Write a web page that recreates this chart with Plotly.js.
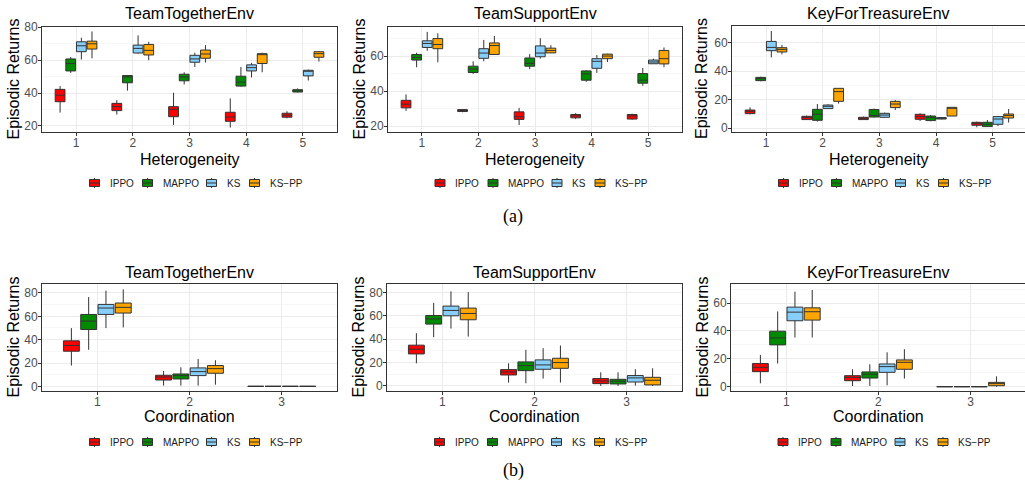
<!DOCTYPE html>
<html><head><meta charset="utf-8">
<script src="https://cdn.plot.ly/plotly-3.0.1.min.js"></script>
<style>html,body{margin:0;padding:0;background:#fff}#chart{width:1025px;height:486px}</style>
</head><body><div id="chart"></div>
<script>
// ---------- DATA ----------
// each row per category: [lowerWhisker, q1, median, q3, upperWhisker]
const methods = ['IPPO', 'MAPPO', 'KS', 'KS\u2212PP'];
const heteroCats = [1, 2, 3, 4, 5];
const coordCats = [1, 2, 3];
const panelTitles = ['TeamTogetherEnv', 'TeamSupportEnv', 'KeyForTreasureEnv', 'TeamTogetherEnv', 'TeamSupportEnv', 'KeyForTreasureEnv'];
const xTitles = ['Heterogeneity', 'Heterogeneity', 'Heterogeneity', 'Coordination', 'Coordination', 'Coordination'];
const yTitle = 'Episodic Returns';

// (a) TeamTogetherEnv vs Heterogeneity
const TT_H_IPPO  = [[28.1,34.7,38.7,42.2,44.2],[26.9,29.3,31.7,33.7,35.7],[20.6,25.6,30.1,31.7,40.1],[19.0,22.8,25.4,28.3,36.7],[24.6,25.3,26.5,27.7,28.9]];
const TT_H_MAPPO = [[52.2,53.4,57.9,60.7,61.9],[41.4,46.2,49.8,50.6,50.8],[45.2,47.4,49.8,51.4,52.6],[43.8,44.2,46.6,50.2,55.8],[40.3,40.6,41.3,42.0,42.8]];
const TT_H_KS    = [[60.3,65.1,68.7,71.1,73.6],[64.0,64.3,67.1,69.1,75.0],[55.8,58.7,60.7,62.9,64.5],[49.4,53.4,55.4,57.1,58.3],[47.6,50.4,53.2,53.8,54.2]];
const TT_H_KSPP  = [[61.1,66.7,69.9,71.5,77.4],[59.9,63.1,65.9,69.5,71.1],[58.5,61.1,63.7,66.1,69.1],[52.6,57.9,63.3,63.9,64.5],[59.1,61.7,63.9,65.1,65.5]];
// (a) TeamSupportEnv vs Heterogeneity
const TS_H_IPPO  = [[28.7,30.4,32.5,34.7,38.1],[27.9,28.3,28.9,29.4,29.6],[20.6,23.8,25.3,28.1,30.4],[24.0,24.7,25.8,26.6,27.4],[23.6,24.0,25.8,26.6,27.0]];
const TS_H_MAPPO = [[53.6,57.7,59.2,60.9,61.9],[49.8,50.6,52.6,54.2,57.0],[52.5,54.2,55.8,58.9,61.1],[45.3,46.2,49.8,51.5,51.9],[43.0,44.5,46.2,50.0,53.2]];
const TS_H_KS    = [[63.0,64.9,67.2,68.7,73.8],[57.0,58.7,61.7,64.2,69.2],[58.5,59.6,61.7,65.8,70.2],[50.4,53.0,57.0,58.5,60.6],[55.5,55.6,56.6,57.7,58.5]];
const TS_H_KSPP  = [[56.4,64.2,66.6,70.0,73.0],[60.8,60.9,66.0,67.5,71.5],[61.7,61.8,63.2,64.5,66.2],[56.6,58.5,60.0,61.1,61.3],[53.6,55.5,58.5,63.2,64.9]];
// (a) KeyForTreasureEnv vs Heterogeneity
const KT_H_IPPO  = [[9.8,10.3,11.9,12.8,14.7],[5.8,6.1,7.5,8.4,8.9],[6.1,6.1,7.0,7.7,8.2],[5.1,6.3,8.2,9.8,10.5],[0.7,2.1,3.3,4.2,4.7]];
const KT_H_MAPPO = [[32.9,33.4,34.8,35.7,36.2],[4.7,5.6,9.8,13.3,17.0],[7.5,7.9,9.0,13.2,13.8],[4.9,5.4,7.5,8.6,9.3],[1.2,1.2,2.8,4.2,5.8]];
const KT_H_KS    = [[49.7,54.4,56.7,60.9,68.2],[13.8,13.8,15.4,16.3,16.8],[7.5,7.7,9.3,10.5,11.0],[6.3,6.5,7.0,7.5,7.7],[1.6,2.8,6.5,8.2,8.6]];
const KT_H_KSPP  = [[51.8,53.5,55.3,56.5,58.4],[17.3,18.9,25.7,28.0,28.0],[12.8,14.5,17.0,18.9,19.8],[8.6,8.6,14.0,14.7,14.7],[4.0,7.2,8.9,10.0,13.5]];
// (b) TeamTogetherEnv vs Coordination
const TT_C_IPPO  = [[17.8,30.1,35.0,39.0,49.9],[0.6,5.4,8.0,9.5,13.2],[0,0,0,0,0]];
const TT_C_MAPPO = [[31.3,48.7,55.9,61.6,76.5],[0.6,6.3,9.2,10.6,16.3],[0,0,0,0,0]];
const TT_C_KS    = [[49.9,61.6,67.1,70.2,82.0],[0.6,9.2,12.6,15.8,23.5],[0,0,0,0,0]];
const TT_C_KSPP  = [[50.5,62.8,67.7,71.4,83.1],[1.4,11.2,15.2,17.8,22.4],[0,0,0,0,0]];
// (b) TeamSupportEnv vs Coordination
const TS_C_IPPO  = [[19.4,27.4,31.4,34.9,45.1],[2.9,9.4,12.0,14.0,19.4],[0,2.0,4.3,6.3,11.7]];
const TS_C_MAPPO = [[41.7,52.9,57.4,60.3,71.1],[2.3,13.1,17.4,20.6,30.9],[0,1.7,4.0,5.7,11.7]];
const TS_C_KS    = [[49.1,60.0,64.6,68.3,80.9],[6.3,14.3,18.0,22.3,32.3],[0.3,3.4,6.9,8.9,14.3]];
const TS_C_KSPP  = [[42.3,56.6,62.0,66.6,80.3],[2.9,15.1,20.0,23.7,34.6],[0,0.9,4.9,7.4,15.1]];
// (b) KeyForTreasureEnv vs Coordination
const KT_C_IPPO  = [[2.4,10.8,13.9,16.6,22.8],[0.5,4.3,6.7,7.9,12.5],[0,0,0,0,0]];
const KT_C_MAPPO = [[16.6,30.0,35.0,39.8,54.0],[0.5,6.2,8.9,10.6,16.1],[0,0,0,0,0]];
const KT_C_KS    = [[35.3,47.3,53.5,57.1,68.2],[1.0,10.3,14.4,16.3,24.7],[0,0,0,0,0]];
const KT_C_KSPP  = [[35.3,47.8,53.8,56.6,69.4],[5.8,12.5,17.5,19.2,26.9],[0,0.7,2.2,3.1,7.4]];

const panelData = [
  [TT_H_IPPO, TT_H_MAPPO, TT_H_KS, TT_H_KSPP],
  [TS_H_IPPO, TS_H_MAPPO, TS_H_KS, TS_H_KSPP],
  [KT_H_IPPO, KT_H_MAPPO, KT_H_KS, KT_H_KSPP],
  [TT_C_IPPO, TT_C_MAPPO, TT_C_KS, TT_C_KSPP],
  [TS_C_IPPO, TS_C_MAPPO, TS_C_KS, TS_C_KSPP],
  [KT_C_IPPO, KT_C_MAPPO, KT_C_KS, KT_C_KSPP]
];
const panelCats = [heteroCats, heteroCats, heteroCats, coordCats, coordCats, coordCats];

// ---------- STYLE / LAYOUT ----------
const colors = ['#FF0000', '#008A00', '#87CEFA', '#FFA500'];
const W = 1025, H = 486;
const fx = p => p / W;
const fy = p => 1 - p / H;
const FONT = 'Liberation Sans, Arial, Helvetica, sans-serif';
// pixel boxes [left, right, top, bottom]
const boxes = [[42,337,27,132],[388,682,27,132],[732,1025,26,132],[42,337,284,391],[387,682,284,391],[731,1025,284,391]];
const xRanges = [[0.4,5.6],[0.4,5.6],[0.4,5.57],[0.4,3.6],[0.4,3.6],[0.4,3.59]];
const yRanges = [[16.3,80.1],[16.6,76.6],[-2.6,71.7],[-4.0,87.7],[-4.3,87.2],[-3.1,73.7]];
const yTitleX = [13, 359, 702, 13, 358, 702];
const rowTitleY = [13, 13, 13, 272, 272, 272];
const rowXTitleY = [159, 159, 159, 416, 416, 416];
const rowLegendY = [183, 183, 183, 442, 442, 442];
// legend layout relative to the legend centre (px): icon centre and text start per item
const legendCentreOffset = 4;
const legendIconDx = [-99, -46, 18, 61];
const legendTextDx = [-86, -33, 31, 74];

const traces = [];
const layout = {
  width: W, height: H,
  margin: {l: 0, r: 0, t: 0, b: 0},
  paper_bgcolor: '#fff', plot_bgcolor: '#fff',
  font: {family: FONT, color: '#000'},
  boxmode: 'group', boxgap: 0.25, boxgroupgap: 0.08,
  annotations: [], shapes: [],
  showlegend: false
};

for (let p = 0; p < 6; p++) {
  const n = p + 1;
  const xa = 'x' + (n === 1 ? '' : n), ya = 'y' + (n === 1 ? '' : n);
  const cats = panelCats[p];
  const [L, R, T, B] = boxes[p];
  panelData[p].forEach((rows, m) => {
    traces.push({
      type: 'box', orientation: 'v',
      name: methods[m],
      x: cats,
      lowerfence: rows.map(r => r[0]),
      q1: rows.map(r => r[1]),
      median: rows.map(r => r[2]),
      q3: rows.map(r => r[3]),
      upperfence: rows.map(r => r[4]),
      fillcolor: colors[m],
      line: {color: '#333333', width: 1},
      whiskerwidth: 0,
      boxpoints: false,
      offsetgroup: 'm' + m,
      alignmentgroup: 'panel' + n,
      xaxis: xa, yaxis: ya,
      showlegend: false,
      hoverinfo: 'skip'
    });
  });
  const axCommon = {
    showgrid: true, gridcolor: '#EBEBEB', gridwidth: 1,
    zeroline: false, showline: true, mirror: true, linecolor: '#333333', linewidth: 1,
    ticks: 'outside', ticklen: 3, tickcolor: '#333333', tickwidth: 1,
    tickfont: {family: FONT, size: 12, color: '#4D4D4D'},
    fixedrange: true
  };
  layout['xaxis' + (n === 1 ? '' : n)] = Object.assign({}, axCommon, {
    domain: [fx(L), fx(R)], range: xRanges[p], anchor: ya,
    tickmode: 'array', tickvals: cats, ticktext: cats.map(String),
    ticklabelstandoff: -3
  });
  layout['yaxis' + (n === 1 ? '' : n)] = Object.assign({}, axCommon, {
    domain: [fy(B), fy(T)], range: yRanges[p], anchor: xa,
    tick0: 0, dtick: 20, ticklabelstandoff: -2,
    minor: {tick0: 10, dtick: 20, showgrid: true, gridcolor: '#F2F2F2', gridwidth: 0.6, ticks: ''}
  });
  // panel title
  layout.annotations.push({
    text: panelTitles[p], xref: 'paper', yref: 'paper', x: fx((L + R) / 2), y: fy(rowTitleY[p]),
    xanchor: 'center', yanchor: 'middle', showarrow: false, font: {family: FONT, size: 16, color: '#000'}
  });
  // x axis title
  layout.annotations.push({
    text: xTitles[p], xref: 'paper', yref: 'paper', x: fx((L + R) / 2), y: fy(rowXTitleY[p]),
    xanchor: 'center', yanchor: 'middle', showarrow: false, font: {family: FONT, size: 16, color: '#000'}
  });
  // y axis title
  layout.annotations.push({
    text: yTitle, xref: 'paper', yref: 'paper', x: fx(yTitleX[p]), y: fy((T + B) / 2),
    xanchor: 'center', yanchor: 'middle', textangle: -90, showarrow: false,
    font: {family: FONT, size: 16, color: '#000'}
  });
  // legend key (one per panel, as in the reference)
  const lc = Math.min((L + R) / 2, 1025 - 145) + legendCentreOffset;
  const ly = rowLegendY[p];
  methods.forEach((name, m) => {
    const cx = lc + legendIconDx[m];
    layout.shapes.push({type: 'line', xref: 'paper', yref: 'paper', x0: fx(cx), x1: fx(cx), y0: fy(ly - 5), y1: fy(ly + 5), line: {color: '#333333', width: 1}});
    layout.shapes.push({type: 'rect', xref: 'paper', yref: 'paper', x0: fx(cx - 5), x1: fx(cx + 5), y0: fy(ly - 3.5), y1: fy(ly + 3.5), fillcolor: colors[m], line: {color: '#333333', width: 1}});
    layout.shapes.push({type: 'line', xref: 'paper', yref: 'paper', x0: fx(cx - 5), x1: fx(cx + 5), y0: fy(ly), y1: fy(ly), line: {color: '#333333', width: 1}});
    layout.annotations.push({
      text: name, xref: 'paper', yref: 'paper', x: fx(lc + legendTextDx[m]), y: fy(ly),
      xanchor: 'left', yanchor: 'middle', showarrow: false, font: {family: FONT, size: 10, color: '#1A1A1A'}
    });
  });
}
// captions
layout.annotations.push({text: '(a)', xref: 'paper', yref: 'paper', x: fx(513), y: fy(216), xanchor: 'center', yanchor: 'middle', showarrow: false, font: {family: 'Liberation Serif, Times New Roman, serif', size: 18, color: '#000'}});
layout.annotations.push({text: '(b)', xref: 'paper', yref: 'paper', x: fx(513), y: fy(470), xanchor: 'center', yanchor: 'middle', showarrow: false, font: {family: 'Liberation Serif, Times New Roman, serif', size: 18, color: '#000'}});

Plotly.newPlot('chart', traces, layout, {staticPlot: true, displayModeBar: false});
</script>
</body></html>
